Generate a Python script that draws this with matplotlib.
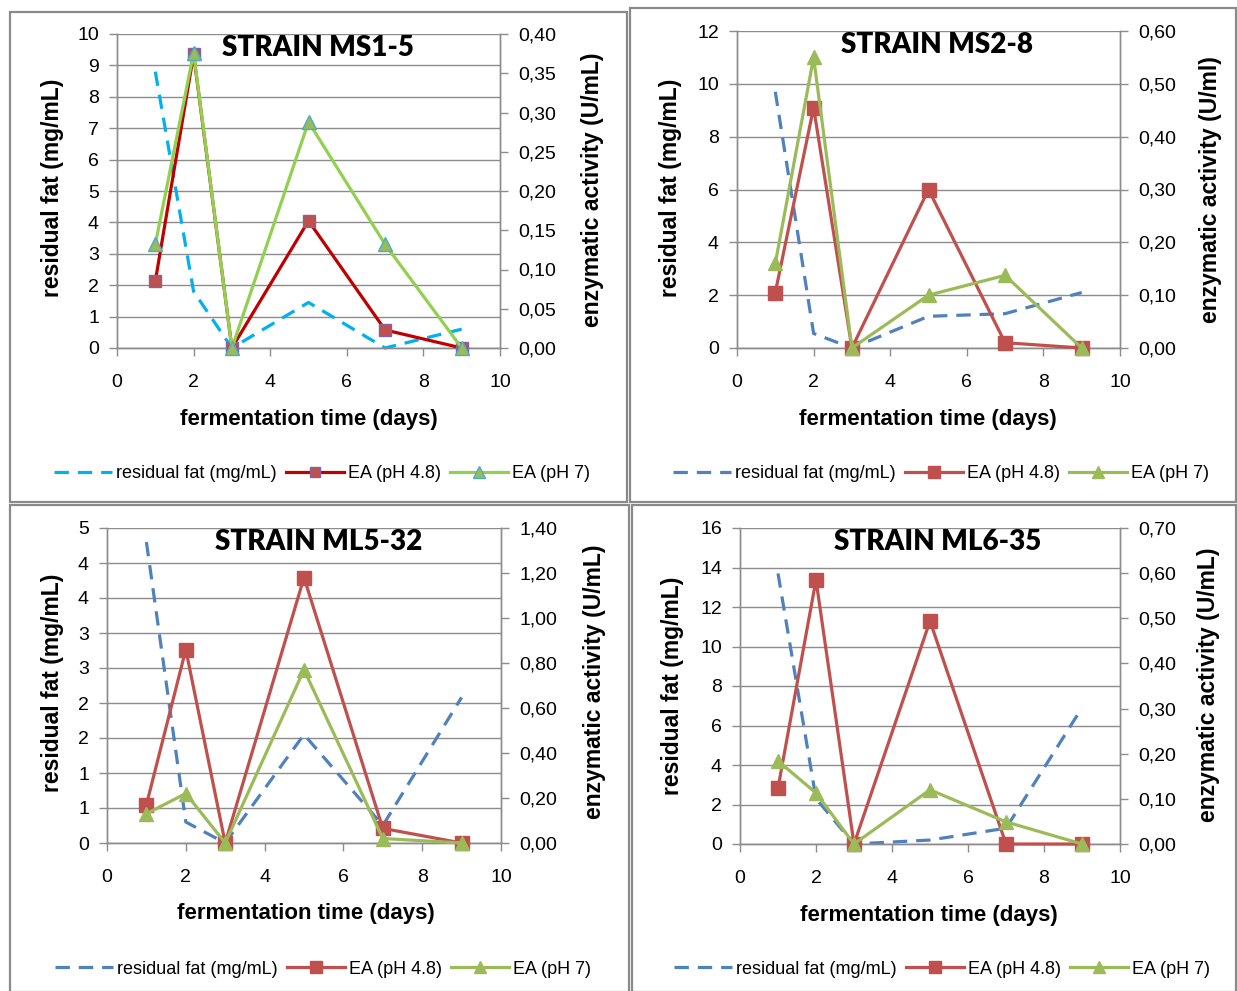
import matplotlib
matplotlib.use("Agg")
import matplotlib.pyplot as plt
from matplotlib.lines import Line2D
from matplotlib.patches import Rectangle

plt.rcParams["font.family"] = ["Liberation Sans", "DejaVu Sans"]

W, H = 1237, 991

days = [1, 2, 3, 5, 7, 9]

# STRAIN MS1-5
fat_ms15 = [8.8, 1.8, 0.0, 1.45, 0.0, 0.6]
ea48_ms15 = [0.085, 0.374, 0.0, 0.162, 0.023, 0.0]
ea7_ms15 = [0.132, 0.376, 0.0, 0.288, 0.132, 0.0]

# STRAIN MS2-8
fat_ms28 = [9.7, 0.55, 0.0, 1.2, 1.3, 2.1]
ea48_ms28 = [0.105, 0.455, 0.0, 0.30, 0.01, 0.0]
ea7_ms28 = [0.16, 0.55, 0.0, 0.10, 0.1375, 0.0]

# STRAIN ML5-32
fat_ml532 = [4.3, 0.3, 0.0, 1.55, 0.25, 2.08]
ea48_ml532 = [0.17, 0.86, 0.0, 1.18, 0.065, 0.0]
ea7_ml532 = [0.13, 0.22, 0.0, 0.77, 0.02, 0.0]

# STRAIN ML6-35
fat_ml635 = [13.7, 2.3, 0.0, 0.2, 0.8, 6.9]
ea48_ml635 = [0.124, 0.585, 0.0, 0.494, 0.0, 0.0]
ea7_ml635 = [0.184, 0.113, 0.0, 0.12, 0.049, 0.0]

# ejes
left_ticks_ms15 = [0, 1, 2, 3, 4, 5, 6, 7, 8, 9, 10]
right_ticks_ms15 = [0.0, 0.05, 0.10, 0.15, 0.20, 0.25, 0.30, 0.35, 0.40]
left_ticks_ms28 = [0, 2, 4, 6, 8, 10, 12]
right_ticks_ms28 = [0.0, 0.10, 0.20, 0.30, 0.40, 0.50, 0.60]
left_ticks_ml532 = [0, 0.5, 1, 1.5, 2, 2.5, 3, 3.5, 4, 4.5]
left_labels_ml532 = ["0", "1", "1", "2", "2", "3", "3", "4", "4", "5"]
right_ticks_ml532 = [0.0, 0.20, 0.40, 0.60, 0.80, 1.00, 1.20, 1.40]
left_ticks_ml635 = [0, 2, 4, 6, 8, 10, 12, 14, 16]
right_ticks_ml635 = [0.0, 0.10, 0.20, 0.30, 0.40, 0.50, 0.60, 0.70]
x_ticks = [0, 2, 4, 6, 8, 10]

GRID = "#8c8c8c"


def fig_box(x0, y0, x1, y1):
    return [x0 / W, 1 - y1 / H, (x1 - x0) / W, (y1 - y0) / H]


def fx(x):
    return x / W


def fy(y):
    return 1 - y / H


def draw_panel(fig, p):
    ax = fig.add_axes(fig_box(*p["plot"]))
    ax2 = ax.twinx()

    ax.plot(days, p["fat"], color=p["fat_color"], lw=2.3,
            ls=(0, (4.5, 2.8)), clip_on=False, zorder=2)
    ax2.plot(days, p["ea48"], color=p["red_line"], lw=2.3,
             marker="s", ms=p["sq_size"], mfc=p["red_face"],
             mec=p["red_edge"], mew=1.0, clip_on=False, zorder=3)
    ax2.plot(days, p["ea7"], color=p["green_line"], lw=2.3,
             marker="^", ms=p["tri_size"], mfc=p["green_face"],
             mec=p["green_edge"], mew=1.0, clip_on=False, zorder=4)

    lt = p["left_ticks"]
    rt = p["right_ticks"]
    ax.set_xlim(0, 10)
    ax.set_ylim(lt[0], lt[-1])
    ax2.set_ylim(rt[0], rt[-1])
    ax.set_xticks(x_ticks)
    ax.set_yticks(lt)
    ax.set_yticklabels(p.get("left_labels") or [f"{v:g}" for v in lt])
    ax2.set_yticks(rt)
    ax2.set_yticklabels([f"{v:.2f}".replace(".", ",") for v in rt])

    ax.grid(axis="y", color=GRID, lw=1.0)
    ax.set_axisbelow(True)
    for a in (ax, ax2):
        a.spines["top"].set_visible(False)
        for side in ("left", "right", "bottom"):
            a.spines[side].set_color(GRID)
            a.spines[side].set_linewidth(1.0)
        a.tick_params(colors=GRID, labelcolor="black", labelsize=14,
                      length=6, width=1.0)
    ax.tick_params(axis="x", pad=13)
    ax.tick_params(axis="y", pad=7)
    ax2.tick_params(axis="y", pad=7)

    fig.text(fx(p["title_xy"][0]), fy(p["title_xy"][1]), p["title"],
             family="Lato", weight="heavy", fontsize=20,
             ha="center", va="center")
    fig.text(fx(p["ylab_xy"][0]), fy(p["ylab_xy"][1]),
             "residual fat (mg/mL)", weight="bold", fontsize=16.5,
             rotation=90, ha="center", va="center")
    fig.text(fx(p["y2lab_xy"][0]), fy(p["y2lab_xy"][1]), p["y2label"],
             weight="bold", fontsize=16.5, rotation=90,
             ha="center", va="center")
    fig.text(fx(p["xlab_xy"][0]), fy(p["xlab_xy"][1]),
             "fermentation time (days)", weight="bold", fontsize=16,
             ha="center", va="center")

    handles = [
        Line2D([], [], color=p["fat_color"], lw=2.3, ls=(0, (4.5, 2.8))),
        Line2D([], [], color=p["red_line"], lw=2.3, marker="s",
               ms=p["sq_size"] * 0.85, mfc=p["red_face"], mec=p["red_edge"]),
        Line2D([], [], color=p["green_line"], lw=2.3, marker="^",
               ms=p["tri_size"] * 0.85, mfc=p["green_face"],
               mec=p["green_edge"]),
    ]
    labels = ["residual fat (mg/mL)", "EA (pH 4.8)", "EA (pH 7)"]
    fig.legend(handles, labels, loc="center",
               bbox_to_anchor=(fx(p["leg_xy"][0]), fy(p["leg_xy"][1])),
               ncol=3, frameon=False, fontsize=13, handlelength=3.2,
               columnspacing=0.55, handletextpad=0.2, borderpad=0)


fig = plt.figure(figsize=(W / 100, H / 100), dpi=100)

style_a = dict(fat_color="#00B0F0", red_line="#C00000", red_face="#C0504D",
               red_edge="#8064A2", green_line="#92D050",
               green_face="#9BBB59", green_edge="#4BACC6",
               sq_size=8, tri_size=10)
style_b = dict(fat_color="#4F81BD", red_line="#C0504D", red_face="#C0504D",
               red_edge="#C0504D", green_line="#9BBB59",
               green_face="#9BBB59", green_edge="#9BBB59",
               sq_size=10, tri_size=10)

panels = [
    dict(style_a, plot=(117, 34, 500, 348), fat=fat_ms15, ea48=ea48_ms15,
         ea7=ea7_ms15, left_ticks=left_ticks_ms15,
         right_ticks=right_ticks_ms15, title="STRAIN MS1-5",
         title_xy=(318, 48), ylab_xy=(52, 188), y2lab_xy=(592, 190),
         y2label="enzymatic activity (U/mL)", xlab_xy=(309, 419),
         leg_xy=(322, 474)),
    dict(style_b, plot=(737, 31, 1120, 348), fat=fat_ms28, ea48=ea48_ms28,
         ea7=ea7_ms28, left_ticks=left_ticks_ms28,
         right_ticks=right_ticks_ms28, title="STRAIN MS2-8",
         title_xy=(937, 45), ylab_xy=(671, 188), y2lab_xy=(1210, 190),
         y2label="enzymatic activity (U/ml)", xlab_xy=(928, 419),
         leg_xy=(941, 474)),
    dict(style_b, plot=(107, 528, 501, 843), fat=fat_ml532,
         ea48=ea48_ml532, ea7=ea7_ml532, left_ticks=left_ticks_ml532,
         left_labels=left_labels_ml532, right_ticks=right_ticks_ml532,
         title="STRAIN ML5-32", title_xy=(319, 542), ylab_xy=(52, 683),
         y2lab_xy=(595, 682), y2label="enzymatic activity (U/mL)",
         xlab_xy=(306, 914), leg_xy=(323, 969)),
    dict(style_b, plot=(740, 528, 1120, 844), fat=fat_ml635,
         ea48=ea48_ml635, ea7=ea7_ml635, left_ticks=left_ticks_ml635,
         right_ticks=right_ticks_ml635, title="STRAIN ML6-35",
         title_xy=(938, 542), ylab_xy=(672, 686), y2lab_xy=(1208, 685),
         y2label="enzymatic activity (U/mL)", xlab_xy=(929, 915),
         leg_xy=(942, 969)),
]

for p in panels:
    draw_panel(fig, p)

# marcos de cada gráfico
for x0, y0, x1, y1 in [(10, 12, 627, 502), (630, 8, 1236, 502),
                       (10, 505, 629, 992), (632, 505, 1236, 992)]:
    fig.patches.append(Rectangle((fx(x0), fy(y1)), (x1 - x0) / W,
                                 (y1 - y0) / H, transform=fig.transFigure,
                                 fill=False, edgecolor="#8a8a8a", lw=1.6))

fig.savefig("out.png", dpi=100)
